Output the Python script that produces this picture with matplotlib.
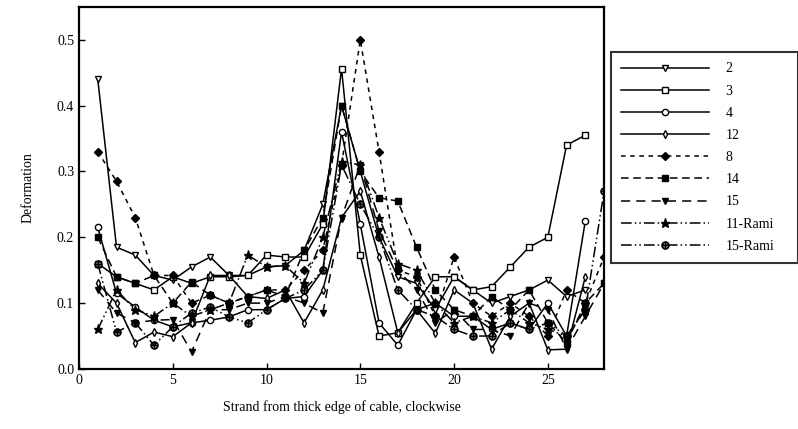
import numpy as np
import matplotlib
matplotlib.use("Agg")
import matplotlib.pyplot as plt

plt.rcParams['font.family'] = ['Liberation Serif', 'DejaVu Serif']

strand = list(range(1, 29))

s2 = [0.44, 0.185, 0.173, 0.142, 0.135, 0.155, 0.17, 0.142, 0.142, 0.155, 0.157, 0.18, 0.25, 0.40,
      0.30, 0.20, 0.14, 0.13, 0.09, 0.14, 0.12, 0.10, 0.11, 0.12, 0.135, 0.11, 0.12]
s3 = [0.16, 0.14, 0.13, 0.12, 0.14, 0.13, 0.14, 0.14, 0.142, 0.173, 0.17, 0.17, 0.22, 0.456,
      0.173, 0.05, 0.055, 0.10, 0.14, 0.14, 0.12, 0.125, 0.155, 0.185, 0.20, 0.34, 0.355]
s4 = [0.215, 0.115, 0.094, 0.074, 0.064, 0.07, 0.074, 0.079, 0.09, 0.09, 0.107, 0.11, 0.15, 0.36,
      0.22, 0.07, 0.036, 0.09, 0.10, 0.08, 0.08, 0.06, 0.07, 0.06, 0.10, 0.05, 0.225]
s12 = [0.13, 0.10, 0.04, 0.056, 0.049, 0.07, 0.142, 0.142, 0.11, 0.107, 0.12, 0.07, 0.12, 0.23,
       0.27, 0.17, 0.055, 0.09, 0.054, 0.12, 0.10, 0.03, 0.08, 0.10, 0.029, 0.03, 0.14]
s8 = [0.33, 0.285, 0.23, 0.142, 0.142, 0.10, 0.112, 0.10, 0.11, 0.12, 0.12, 0.15, 0.18, 0.31,
      0.50, 0.33, 0.15, 0.14, 0.08, 0.17, 0.10, 0.08, 0.10, 0.08, 0.05, 0.12, 0.10, 0.17]
s14 = [0.20, 0.14, 0.13, 0.142, 0.10, 0.132, 0.112, 0.10, 0.11, 0.12, 0.11, 0.18, 0.23, 0.40,
       0.30, 0.26, 0.255, 0.185, 0.12, 0.09, 0.08, 0.11, 0.09, 0.12, 0.07, 0.04, 0.10, 0.13]
s15 = [0.12, 0.085, 0.07, 0.074, 0.075, 0.026, 0.09, 0.09, 0.10, 0.10, 0.11, 0.10, 0.085, 0.23,
       0.31, 0.21, 0.15, 0.12, 0.07, 0.09, 0.06, 0.06, 0.05, 0.10, 0.09, 0.03, 0.08, 0.13]
s11r = [0.06, 0.12, 0.09, 0.08, 0.10, 0.08, 0.09, 0.10, 0.173, 0.155, 0.157, 0.13, 0.20, 0.315,
        0.31, 0.23, 0.16, 0.15, 0.10, 0.07, 0.08, 0.07, 0.09, 0.07, 0.06, 0.05, 0.09]
s15r = [0.16, 0.056, 0.07, 0.036, 0.064, 0.085, 0.094, 0.079, 0.07, 0.09, 0.107, 0.12, 0.15, 0.31,
        0.25, 0.20, 0.12, 0.09, 0.08, 0.06, 0.05, 0.05, 0.07, 0.06, 0.07, 0.05, 0.09, 0.27]

labels = ['2', '3', '4', '12', '8', '14', '15', '11-Rami', '15-Rami']
series = [s2, s3, s4, s12, s8, s14, s15, s11r, s15r]
styles = [
    dict(ls='-', marker='v', mfc='white'),
    dict(ls='-', marker='s', mfc='white', ms=4.5),
    dict(ls='-', marker='o', mfc='white', ms=4.5),
    dict(ls='-', marker='d', mfc='white', ms=4),
    dict(ls=(0, (3, 3)), marker='D', mfc='black', ms=4),
    dict(ls=(0, (5, 3)), marker='s', mfc='black', ms=4.5),
    dict(ls=(0, (6, 4)), marker='v', mfc='black'),
    dict(ls=(0, (7, 2, 1, 2, 1, 2)), marker='*', mfc='black', ms=6.5),
    dict(ls=(0, (7, 2, 1, 2, 1, 2)), marker='$\\oplus$', mfc='black', ms=5.5, mew=0.6),
]

fig = plt.figure(figsize=(7.98, 4.29), dpi=100)
ax = fig.add_axes([0.099, 0.140, 0.658, 0.844])

for vals, lab, st in zip(series, labels, styles):
    kw = dict(color='black', lw=1.1, mec='black', ms=5, mew=1.0)
    kw.update(st)
    ax.plot(strand[:len(vals)], vals, label=lab, **kw)

ax.set_xlim(0, 28)
ax.set_ylim(0, 0.55)
ax.set_xticks([0, 5, 10, 15, 20, 25])
ax.set_yticks([0.0, 0.1, 0.2, 0.3, 0.4, 0.5])
ax.set_yticklabels(['0.0', '0.1', '0.2', '0.3', '0.4', '0.5'])
ax.tick_params(direction='in', length=4, width=1, labelsize=10, top=False, right=False)
for sp in ax.spines.values():
    sp.set_linewidth(1.6)

ax.set_ylabel('Deformation', fontsize=10, labelpad=16)
ax.set_xlabel('Strand from thick edge of cable, clockwise', fontsize=10, labelpad=10)

leg = fig.legend(loc='upper left', bbox_to_anchor=(0.7657, 0.3776, 0.2343, 0.5012),
                 mode='expand', frameon=True, fancybox=False, edgecolor='black',
                 fontsize=10, handlelength=6.3, labelspacing=0.66, borderpad=0.75,
                 handletextpad=1.2, borderaxespad=0.0)
leg.get_frame().set_linewidth(1.5)

fig.savefig('out.png', dpi=100)
